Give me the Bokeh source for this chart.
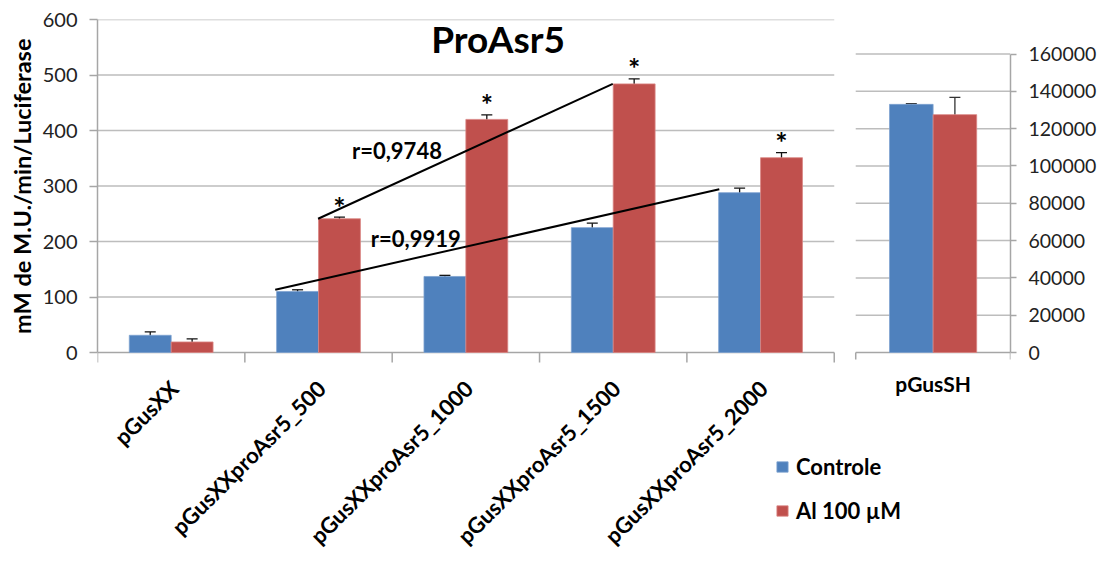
import numpy as np
from bokeh.plotting import figure
from bokeh.models import (Range1d, LinearAxis, FixedTicker, ColumnDataSource,
                          Whisker, TeeHead, Legend, Title, NumeralTickFormatter)
from bokeh.core.properties import value
from bokeh.embed import file_html
from bokeh.resources import INLINE

# ---------------- data ----------------
categories = ["pGusXX", "pGusXXproAsr5_500", "pGusXXproAsr5_1000",
              "pGusXXproAsr5_1500", "pGusXXproAsr5_2000"]
controle = [31, 110, 137, 225, 288]
controle_err = [6, 3, 2, 8, 8]
al = [19, 241, 420, 484, 351]
al_err = [5.5, 3, 8, 9, 9]
significant = [False, True, True, True, True]

ref_category = ["pGusSH"]
ref_controle = [133000]
ref_controle_err = [400]
ref_al = [127500]
ref_al_err = [9300]

# trend lines (x in category units, y in left-axis units)
trend_al_x = [1.497, 3.497]
trend_al_y = [241, 484]
trend_controle_x = [1.206, 4.22]
trend_controle_y = [113, 294]
r_labels = ["r=0,9748", "r=0,9919"]

left_ticks = [0, 100, 200, 300, 400, 500, 600]
right_ticks = [0, 20000, 40000, 60000, 80000, 100000, 120000, 140000, 160000]

series_names = ["Controle", "Al 100 µM"]
y_title = "mM de M.U./min/Luciferase"
chart_title = "ProAsr5"

BLUE = "#4F81BD"
RED = "#C0504D"
GRID = "#BDBDBD"
AXIS = "#A6A6A6"
FONT = "Lato"

# ---------------- layout (pixels) ----------------
BL, BT, BR = 97, 19, 80
FW = 922
W = BL + FW + BR
H = 560
FH = H - BT
PX_PER_CAT = 148.8
Y0_PX = 352 - BT              # pixel (from frame top) of value 0
LEFT_PER_PX = 600 / Y0_PX     # left units per pixel
RIGHT_PER_PX = 160000 / 298.5

x_end = FW / PX_PER_CAT
y_start = -(FH - Y0_PX) * LEFT_PER_PX
ry_end = Y0_PX * RIGHT_PER_PX
ry_start = -(FH - Y0_PX) * RIGHT_PER_PX


def px_x(px):
    return (px - BL) / PX_PER_CAT


def px_y(py):
    return (352 - py) * LEFT_PER_PX


p = figure(width=W, height=H, output_backend="svg", toolbar_location=None,
           x_range=Range1d(0, x_end), y_range=Range1d(y_start, 600),
           x_axis_location=None, min_border_left=BL, min_border_top=BT,
           min_border_right=BR, min_border_bottom=0)
p.outline_line_color = None
p.xgrid.visible = False
p.ygrid.visible = False
p.extra_y_ranges = {"right": Range1d(ry_start, ry_end)}

# left axis
ya = p.yaxis[0]
ya.bounds = (0, 600)
ya.ticker = FixedTicker(ticks=left_ticks)
ya.axis_line_color = AXIS
ya.axis_line_width = 1.5
ya.major_tick_line_color = AXIS
ya.major_tick_line_width = 1.5
ya.major_tick_out = 8
ya.major_tick_in = 0
ya.minor_tick_line_color = None
ya.major_label_text_font = FONT
ya.major_label_text_font_size = "20px"
ya.major_label_text_color = "#222222"
ya.major_label_standoff = 12

# right axis
ra = LinearAxis(y_range_name="right", bounds=(0, 160000),
                ticker=FixedTicker(ticks=right_ticks),
                formatter=NumeralTickFormatter(format="0"))
ra.axis_line_color = AXIS
ra.axis_line_width = 1.5
ra.major_tick_line_color = AXIS
ra.major_tick_line_width = 1.5
ra.major_tick_out = 6
ra.major_tick_in = 0
ra.minor_tick_line_color = None
ra.major_label_text_font = FONT
ra.major_label_text_font_size = "19.5px"
ra.major_label_text_color = "#222222"
ra.major_label_standoff = 12
p.add_layout(ra, "right")

# y axis title, aligned with the 0-600 span
p.add_layout(Title(text=y_title, align="right", offset=19, text_font=FONT,
                   text_font_style="bold", text_font_size="23.5px",
                   text_color="#000000", standoff=8), "left")

# ---------------- gridlines & category axes ----------------
r_x0 = px_x(862.7)
r_x1 = x_end
r_center = (r_x0 + r_x1) / 2
n = len(categories)

gl = [t for t in left_ticks if t > 0]
p.segment(x0=[0] * len(gl), x1=[n] * len(gl), y0=gl, y1=gl,
          line_color=GRID, line_width=1.5)
gr = [t for t in right_ticks if t > 0]
p.segment(x0=[r_x0] * len(gr), x1=[r_x1] * len(gr), y0=gr, y1=gr,
          line_color=GRID, line_width=1.5, y_range_name="right")

# bottom axis lines
p.segment(x0=[0], x1=[n], y0=[0], y1=[0], line_color=AXIS, line_width=1.5)
p.segment(x0=[r_x0], x1=[r_x1], y0=[0], y1=[0], line_color=AXIS, line_width=1.5)
bticks = list(range(n + 1))
p.segment(x0=bticks, x1=bticks, y0=[0] * len(bticks),
          y1=[-10 * LEFT_PER_PX] * len(bticks), line_color=AXIS, line_width=1.5)
p.segment(x0=[r_x0, r_x1], x1=[r_x0, r_x1], y0=[0, 0],
          y1=[-7 * LEFT_PER_PX] * 2, line_color=AXIS, line_width=1.5)

# ---------------- bars ----------------
bw = 42.3 / PX_PER_CAT
xc = np.arange(n) + 0.5
src = ColumnDataSource(dict(
    xb=xc - bw / 2, xr=xc + bw / 2,
    c=controle, a=al,
    cu=np.array(controle) + np.array(controle_err),
    cl=np.array(controle) - np.array(controle_err),
    au=np.array(al) + np.array(al_err),
    al_=np.array(al) - np.array(al_err)))
rb = p.vbar(x="xb", top="c", bottom=0, width=bw, source=src,
            fill_color=BLUE, line_color="#7DA2D1", line_width=0.8)
rr = p.vbar(x="xr", top="a", bottom=0, width=bw, source=src,
            fill_color=RED, line_color="#D98583", line_width=0.8)

for up, lo, xk in (("cu", "cl", "xb"), ("au", "al_", "xr")):
    p.add_layout(Whisker(source=src, base=xk, upper=up, lower=lo,
                         line_color="#111111", line_width=1.3,
                         upper_head=TeeHead(size=11, line_color="#111111", line_width=1.3),
                         lower_head=TeeHead(size=11, line_color="#111111", line_width=1.3)))

rbw = 44 / PX_PER_CAT
rsrc = ColumnDataSource(dict(
    xb=[r_center - rbw / 2], xr=[r_center + rbw / 2],
    c=ref_controle, a=ref_al,
    cu=[ref_controle[0] + ref_controle_err[0]], cl=[ref_controle[0] - ref_controle_err[0]],
    au=[ref_al[0] + ref_al_err[0]], al_=[ref_al[0] - ref_al_err[0]]))
p.vbar(x="xb", top="c", bottom=0, width=rbw, source=rsrc, y_range_name="right",
       fill_color=BLUE, line_color="#7DA2D1", line_width=0.8)
p.vbar(x="xr", top="a", bottom=0, width=rbw, source=rsrc, y_range_name="right",
       fill_color=RED, line_color="#D98583", line_width=0.8)
for up, lo, xk in (("cu", "cl", "xb"), ("au", "al_", "xr")):
    p.add_layout(Whisker(source=rsrc, base=xk, upper=up, lower=lo, y_range_name="right",
                         line_color="#333333", line_width=1.3,
                         upper_head=TeeHead(size=11, line_color="#333333", line_width=1.3),
                         lower_head=TeeHead(size=11, line_color="#333333", line_width=1.3)))

# significance stars
sx = [xc[i] + bw / 2 for i in range(n) if significant[i]]
sy = [al[i] + al_err[i] + 11 * LEFT_PER_PX for i in range(n) if significant[i]]
p.text(x=sx, y=sy, text=["*"] * len(sx), text_align="center", text_baseline="middle",
       text_font=value(FONT), text_font_style="bold", text_font_size="29px",
       text_color="#000000")

# trend lines
p.line(trend_al_x, trend_al_y, line_color="#000000", line_width=2)
p.line(trend_controle_x, trend_controle_y, line_color="#000000", line_width=2)
p.text(x=[px_x(354), px_x(373)], y=[px_y(150), px_y(238)],
       text=r_labels, text_align="left", text_baseline="middle",
       text_font=value(FONT), text_font_style="bold", text_font_size="22px",
       text_color="#000000")

# title
p.text(x=[px_x(501.5)], y=[px_y(38)], text=[chart_title],
       text_align="center", text_baseline="middle", text_font=value(FONT),
       text_font_style="bold", text_font_size="37px", text_color="#000000")

# category labels
p.text(x=xc + 3 / PX_PER_CAT, y=[-32 * LEFT_PER_PX] * n, text=categories,
       angle=np.pi / 4, text_align="right", text_baseline="middle",
       text_font=value(FONT), text_font_style="bold", text_font_size="22px",
       text_color="#000000")
p.text(x=[r_center], y=[px_y(383)], text=ref_category,
       text_align="center", text_baseline="middle", text_font=value(FONT),
       text_font_style="bold", text_font_size="21px", text_color="#000000")

# legend
legend = Legend(items=[(series_names[0], [rb]), (series_names[1], [rr])],
                location=(775 - BL, H - 524), orientation="vertical",
                glyph_width=14, glyph_height=13, label_standoff=7,
                spacing=17, padding=0, margin=0,
                border_line_color=None, background_fill_alpha=0,
                label_text_font=FONT, label_text_font_style="bold",
                label_text_font_size="22px", label_text_color="#000000")
p.add_layout(legend)

open("out.html", "w").write(file_html(p, INLINE))
